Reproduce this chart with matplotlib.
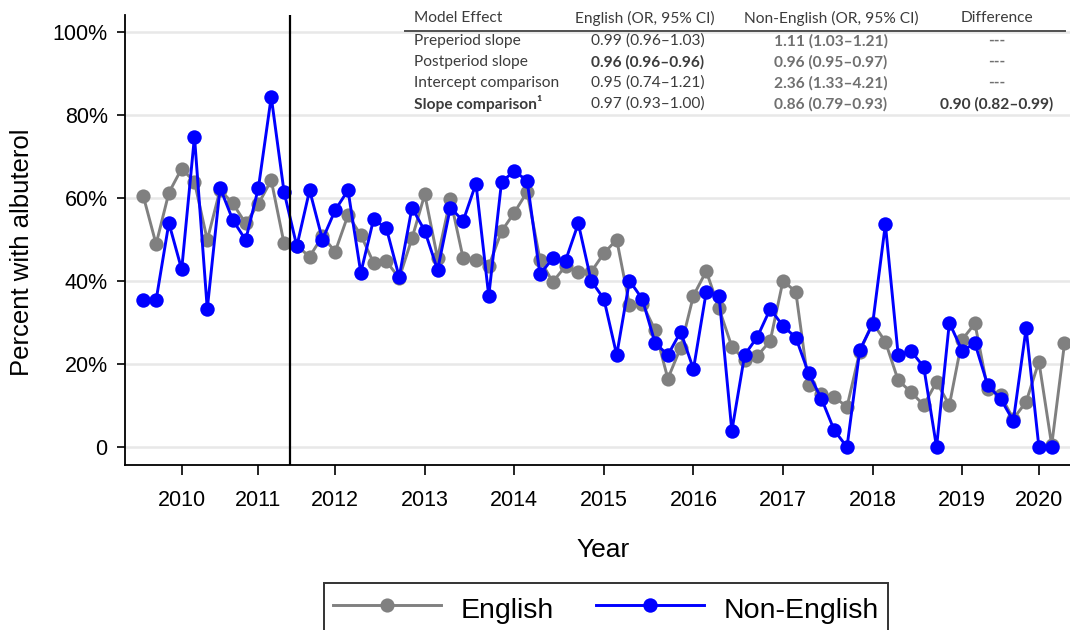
import numpy as np
import matplotlib
matplotlib.use("Agg")
import matplotlib.pyplot as plt

plt.rcParams["font.family"] = ["Liberation Sans", "DejaVu Sans"]

# Share of visits with albuterol, by study period (percent)
english = [60.5, 48.9, 61.3, 67.1, 63.9, 49.9, 62.0, 58.7, 53.9, 58.6, 64.3, 49.1,
           48.5, 45.9, 50.8, 47.1, 55.9, 51.1, 44.4, 44.8, 40.7,
           50.3, 60.9, 45.5, 59.8, 45.5, 45.2, 43.6, 52.0, 56.5, 61.5, 45.2,
           39.8, 43.6, 42.2, 42.2, 46.7, 50.0, 34.2, 34.6, 28.2, 16.5,
           24.0, 36.5, 42.4, 33.4, 24.2, 21.0, 22.0, 25.6, 40.1, 37.4, 14.9,
           12.9, 12.1, 9.7, 23.0, 30.0, 25.4, 16.1, 13.3, 10.1, 15.7,
           10.1, 25.9, 29.8, 13.9, 12.5, 6.8, 10.9, 20.6, 0.5, 25.0]
non_english = [35.4, 35.4, 54.0, 42.8, 74.8, 33.3, 62.5, 54.7, 49.9, 62.5, 84.4, 61.5,
               48.4, 61.9, 50.0, 57.1, 61.9, 42.0, 54.9, 52.7, 41.0,
               57.7, 52.1, 42.7, 57.7, 54.5, 63.5, 36.4, 63.9, 66.5, 64.2, 41.6,
               45.5, 44.9, 53.9, 40.1, 35.7, 22.2, 40.1, 35.7, 25.1, 22.2,
               27.8, 18.8, 37.4, 36.4, 3.9, 22.2, 26.6, 33.3, 29.2, 26.4, 17.8,
               11.7, 4.1, 0.0, 23.4, 29.6, 53.7, 22.2, 23.2, 19.3, 0.0,
               30.0, 23.2, 25.0, 14.9, 11.7, 6.3, 28.6, 0.0, 0.0]

# Period index where each calendar year starts, and the intervention break
year_ticks = [3, 9, 15, 22, 29, 36, 43, 50, 57, 64, 70]
year_labels = ["2010", "2011", "2012", "2013", "2014", "2015",
               "2016", "2017", "2018", "2019", "2020"]
intervention = 11.5

y_ticks = [0, 20, 40, 60, 80, 100]
y_labels = ["0", "20%", "40%", "60%", "80%", "100%"]

# Model results table
table_header = ["Model Effect", "English (OR, 95% CI)", "Non-English (OR, 95% CI)", "Difference"]
table_effects = ["Preperiod slope", "Postperiod slope", "Intercept comparison", "Slope comparison\u00b9"]
table_english = ["0.99 (0.96\u20131.03)", "0.96 (0.96\u20130.96)", "0.95 (0.74\u20131.21)", "0.97 (0.93\u20131.00)"]
table_non_english = ["1.11 (1.03\u20131.21)", "0.96 (0.95\u20130.97)", "2.36 (1.33\u20134.21)", "0.86 (0.79\u20130.93)"]
table_difference = ["---", "---", "---", "0.90 (0.82\u20130.99)"]
english_bold = [False, True, False, False]
effect_bold = [False, False, False, True]

W, H = 1070, 630
fig = plt.figure(figsize=(W / 100, H / 100), dpi=100)


def fx(x):
    return x / W


def fy(y):
    return 1 - y / H


ax = fig.add_axes([fx(125), fy(465), (W - 125) / W, 450 / H])

x_en = np.arange(len(english))
x_ne = np.arange(len(non_english))
ax.plot(x_en, english, color="#808080", lw=2.1, marker="o", ms=10.2,
        mec="none", zorder=3, label="English")
ax.plot(x_ne, non_english, color="#0000ff", lw=2.1, marker="o", ms=10.4,
        mec="none", zorder=4, label="Non-English")
ax.axvline(intervention, color="black", lw=1.6, zorder=5)

ax.set_xlim(-1.43, 72.43)
ax.set_ylim(-4.3, 104.1)
ax.set_xticks(year_ticks)
ax.set_xticklabels(year_labels)
ax.set_yticks(y_ticks)
ax.set_yticklabels(y_labels)
ax.yaxis.grid(True, color="#e8e8e8", lw=1.8)
ax.set_axisbelow(True)

for side in ("top", "right"):
    ax.spines[side].set_visible(False)
for side in ("left", "bottom"):
    ax.spines[side].set_color("black")
    ax.spines[side].set_linewidth(1.3)

ax.tick_params(axis="x", length=7, width=1.2, pad=11, labelsize=15.5, colors="black")
ax.tick_params(axis="y", length=5.5, width=1.2, pad=7, labelsize=15.5, colors="black")

fig.text(fx(22), fy(252), "Percent with albuterol", rotation=90,
         ha="center", va="center", fontsize=18.5)
fig.text(fx(603), fy(550), "Year", ha="center", va="center", fontsize=19)

# Results table in the upper right
tfont = ["Lato", "DejaVu Sans"]
tsize = 11.2
dark = "#3c3c3c"
grey = "#707070"
col_left = 414
col2, col3, col4 = 648, 831, 997
header_y = 18
row_y = [41, 62, 83, 104]

fig.text(fx(col_left), fy(header_y), table_header[0], ha="left", va="center",
         family=tfont, fontsize=tsize, color=dark)
fig.text(fx(645), fy(header_y), table_header[1], ha="center", va="center",
         family=tfont, fontsize=tsize, color=dark)
fig.text(fx(col3), fy(header_y), table_header[2], ha="center", va="center",
         family=tfont, fontsize=tsize, color=dark)
fig.text(fx(col4), fy(header_y), table_header[3], ha="center", va="center",
         family=tfont, fontsize=tsize, color=dark)
fig.add_artist(plt.Line2D([fx(405), fx(1065)], [fy(31), fy(31)],
                          color="#505050", lw=1.4, transform=fig.transFigure))

for i, yy in enumerate(row_y):
    fig.text(fx(col_left), fy(yy), table_effects[i], ha="left", va="center",
             family=tfont, fontsize=tsize, color=dark,
             weight="bold" if effect_bold[i] else "normal")
    fig.text(fx(col2), fy(yy), table_english[i], ha="center", va="center",
             family=tfont, fontsize=tsize, color=dark,
             weight="bold" if english_bold[i] else "normal")
    fig.text(fx(col3), fy(yy), table_non_english[i], ha="center", va="center",
             family=tfont, fontsize=tsize, color=grey, weight="bold")
    is_dash = table_difference[i] == "---"
    fig.text(fx(col4), fy(yy), table_difference[i], ha="center", va="center",
             family=tfont, fontsize=tsize, color=grey if is_dash else dark,
             weight="bold")

handles, labels = ax.get_legend_handles_labels()
leg = fig.legend(handles, labels, loc="upper center",
                 bbox_to_anchor=(fx(606), fy(583)), ncol=2, frameon=True,
                 fancybox=False, edgecolor="black", fontsize=20.5,
                 handlelength=3.8, handleheight=1.45, handletextpad=0.7,
                 columnspacing=1.45, borderpad=0.3, borderaxespad=0)
leg.get_frame().set_linewidth(1.4)

fig.savefig("out.png", dpi=100)
